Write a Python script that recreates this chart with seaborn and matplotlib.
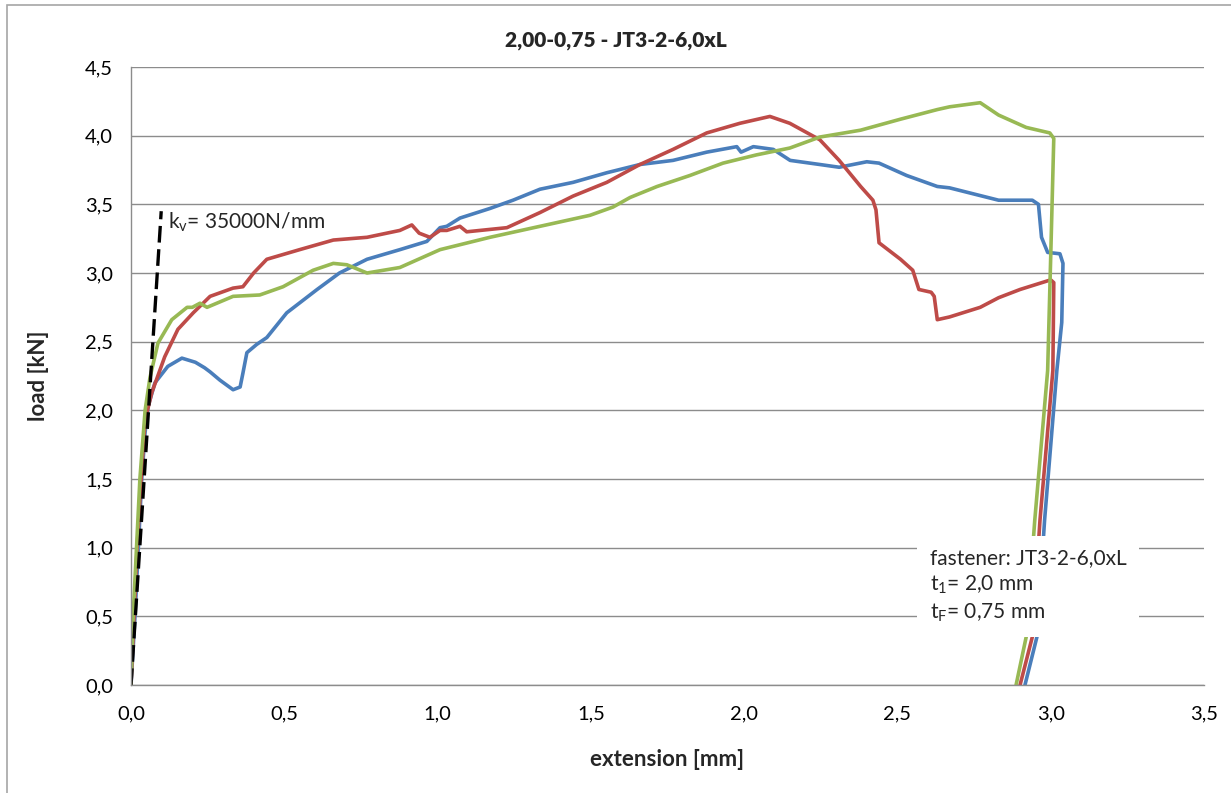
import matplotlib
matplotlib.use("Agg")
import matplotlib.pyplot as plt
import numpy as np
import pandas as pd
import seaborn as sns
from matplotlib.ticker import FuncFormatter, MultipleLocator
from matplotlib.patches import Rectangle

# Load-extension curves of three specimens (extension in mm, load in kN)
blue_x = [0, 0.013, 0.024, 0.035, 0.046, 0.056, 0.078, 0.12, 0.166, 0.21, 0.24, 0.258,
          0.29, 0.333, 0.356, 0.365, 0.378, 0.41, 0.443, 0.508, 0.607, 0.68, 0.77, 0.877,
          0.965, 1.008, 1.03, 1.073, 1.171, 1.246, 1.334, 1.442, 1.552, 1.66, 1.768, 1.878,
          1.976, 1.99, 2.03, 2.095, 2.15, 2.247, 2.31, 2.40, 2.44, 2.53, 2.63, 2.67, 2.83,
          2.94, 2.96, 2.97, 2.99, 3.03, 3.04, 3.036, 3.02, 2.98, 2.955, 2.916]
blue_y = [0, 0.5, 1.0, 1.5, 1.84, 2.03, 2.2, 2.32, 2.38, 2.35, 2.31, 2.28,
          2.22, 2.15, 2.17, 2.27, 2.42, 2.48, 2.53, 2.71, 2.88, 3.0, 3.1, 3.17,
          3.23, 3.33, 3.34, 3.40, 3.47, 3.53, 3.61, 3.66, 3.73, 3.79, 3.82, 3.88,
          3.92, 3.88, 3.92, 3.90, 3.82, 3.79, 3.77, 3.81, 3.80, 3.71, 3.63, 3.62, 3.53,
          3.53, 3.50, 3.26, 3.15, 3.14, 3.07, 2.64, 2.29, 1.2, 0.35, 0]

red_x = [0, 0.01, 0.02, 0.033, 0.046, 0.068, 0.11, 0.153, 0.203, 0.258, 0.333, 0.365,
         0.40, 0.443, 0.55, 0.66, 0.77, 0.877, 0.916, 0.94, 0.975, 1.008, 1.03, 1.073,
         1.095, 1.226, 1.334, 1.442, 1.552, 1.66, 1.768, 1.878, 1.986, 2.084, 2.149,
         2.247, 2.31, 2.38, 2.42, 2.43, 2.44, 2.51, 2.55, 2.57, 2.61, 2.62, 2.63, 2.67,
         2.77, 2.83, 2.90, 3.0, 3.01, 3.007, 2.965, 2.94, 2.90]
red_y = [0, 0.5, 1.0, 1.5, 1.93, 2.13, 2.39, 2.59, 2.71, 2.83, 2.89, 2.90,
         3.0, 3.10, 3.17, 3.24, 3.26, 3.31, 3.35, 3.29, 3.26, 3.31, 3.31, 3.34,
         3.30, 3.33, 3.44, 3.56, 3.66, 3.79, 3.90, 4.02, 4.09, 4.14, 4.09,
         3.97, 3.82, 3.63, 3.53, 3.46, 3.22, 3.10, 3.02, 2.88, 2.86, 2.83, 2.66, 2.68,
         2.75, 2.82, 2.88, 2.95, 2.93, 2.29, 1.2, 0.35, 0]

green_x = [0, 0.007, 0.018, 0.029, 0.046, 0.062, 0.088, 0.133, 0.183, 0.2, 0.225,
           0.248, 0.333, 0.42, 0.496, 0.594, 0.66, 0.704, 0.77, 0.877, 1.008, 1.171,
           1.334, 1.497, 1.572, 1.628, 1.716, 1.823, 1.931, 2.04, 2.149, 2.247, 2.38,
           2.51, 2.63, 2.67, 2.77, 2.83, 2.92, 2.997, 3.01, 3.0, 2.99, 2.948, 2.92, 2.887]
green_y = [0, 0.5, 1.0, 1.5, 2.0, 2.24, 2.49, 2.66, 2.75, 2.75, 2.78,
           2.75, 2.83, 2.84, 2.90, 3.02, 3.07, 3.06, 3.0, 3.04, 3.17, 3.26,
           3.34, 3.42, 3.48, 3.55, 3.63, 3.71, 3.80, 3.86, 3.91, 3.99, 4.04,
           4.12, 4.19, 4.21, 4.24, 4.15, 4.06, 4.02, 3.98, 3.12, 2.29, 1.2, 0.35, 0]

# Initial stiffness line k_v = 35000 N/mm = 35 kN/mm
stiffness_kn_per_mm = 35.0
stiffness_load_end = 3.45

title = "2,00-0,75 - JT3-2-6,0xL"
x_label = "extension [mm]"
y_label = "load [kN]"
stiffness_label = r"k$_\mathregular{v}$= 35000N/mm"
info_lines = ["fastener: JT3-2-6,0xL",
              r"t$_\mathregular{1}$= 2,0 mm",
              r"t$_\mathregular{F}$= 0,75 mm"]

series = {"1": (blue_x, blue_y), "2": (red_x, red_y), "3": (green_x, green_y)}
palette = {"1": "#4A7EBB", "2": "#BE4B48", "3": "#98B954"}

frames = []
for name, (xs, ys) in series.items():
    frames.append(pd.DataFrame({"extension": xs, "load": ys, "specimen": name}))
df = pd.concat(frames, ignore_index=True)

sns.set_theme(style="white")
plt.rcParams["font.family"] = ["Lato", "DejaVu Sans"]
plt.rcParams["mathtext.default"] = "regular"

W, H = 1231, 793
fig = plt.figure(figsize=(W / 100, H / 100), dpi=100)
ax = fig.add_axes([131 / W, 1 - 685 / H, (1204 - 131) / W, (685 - 67) / H])

grid_col = "#8C8C8C"
ax.set_axisbelow(True)
ax.yaxis.grid(True, color=grid_col, linewidth=1.0)
ax.xaxis.grid(False)

for name in series:
    sub = df[df["specimen"] == name]
    sns.lineplot(data=sub, x="extension", y="load", color=palette[name],
                 sort=False, estimator=None, linewidth=2.6, ax=ax, legend=False)

kx = [0, stiffness_load_end / stiffness_kn_per_mm]
ky = [0, stiffness_load_end]
sns.lineplot(x=kx, y=ky, color="black", linewidth=2.4, ax=ax, sort=False,
             estimator=None)
ax.lines[-1].set_linestyle((0, (5, 2)))

ax.set_xlim(0, 3.5)
ax.set_ylim(0, 4.5)
ax.xaxis.set_major_locator(MultipleLocator(0.5))
ax.yaxis.set_major_locator(MultipleLocator(0.5))
comma = FuncFormatter(lambda v, p: f"{v:.1f}".replace(".", ","))
ax.xaxis.set_major_formatter(comma)
ax.yaxis.set_major_formatter(comma)

for side in ("top", "right"):
    ax.spines[side].set_visible(False)
for side in ("left", "bottom"):
    ax.spines[side].set_color(grid_col)
    ax.spines[side].set_linewidth(1.0)
ax.tick_params(axis="both", which="major", direction="out", length=5, width=1.0,
               color=grid_col, labelsize=14.5, labelcolor="black", pad=8)
ax.tick_params(axis="x", pad=10)

ax.set_xlabel(x_label, fontsize=16, fontweight="bold", labelpad=19)
ax.set_ylabel(y_label, fontsize=16, fontweight="bold", labelpad=26)
fig.text(0.5, 1 - 40 / H, title, ha="center", va="center", fontsize=15,
         fontweight="heavy")

ax.text(0.12, 3.37, stiffness_label, fontsize=15, va="center", ha="left")

ax.text(2.606, 1.0, "\n".join(info_lines), fontsize=15, va="top", ha="left",
        linespacing=1.35,
        bbox=dict(facecolor="white", edgecolor="none", pad=9))

# chart frame
fig.patches.append(Rectangle((7 / W, -0.05), 1.2, 1 - 5 / H + 0.05,
                             transform=fig.transFigure, fill=False,
                             edgecolor="#A6A6A6", linewidth=1.2))

fig.savefig("out.png", dpi=100)
